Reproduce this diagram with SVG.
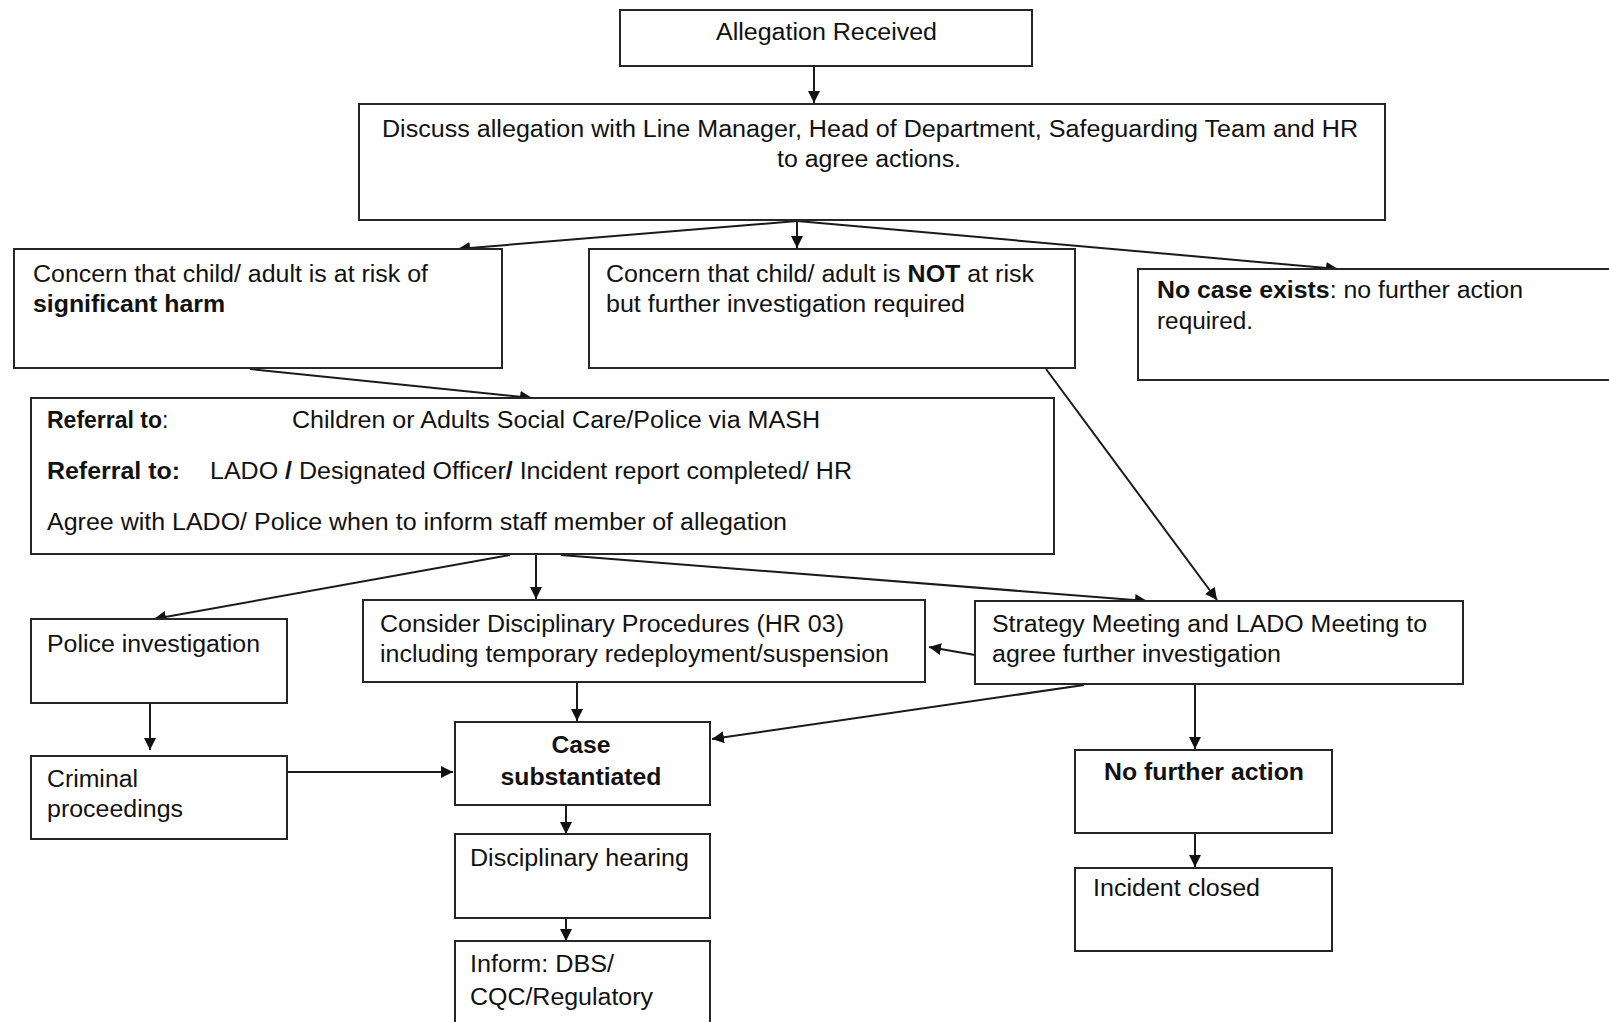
<svg xmlns="http://www.w3.org/2000/svg" width="1609" height="1022" viewBox="0 0 1609 1022">
<style>
.box{fill:#fff;stroke:#262626;stroke-width:2}
.t{font-family:"Liberation Sans",Arial,sans-serif;font-size:23px;fill:#111}
.b{font-weight:bold}
.c{fill:none;stroke:#1a1a1a;stroke-width:2;marker-end:url(#ah)}
</style>
<defs>
<marker id="ah" markerUnits="userSpaceOnUse" markerWidth="14" markerHeight="12" refX="12" refY="6" orient="auto">
<path d="M0,0 L12,6 L0,12 Z" fill="#111"/>
</marker>
</defs>
<rect width="1609" height="1022" fill="#fff"/>
<g id="connectors">
<line class="c" x1="814" y1="66" x2="814" y2="103"/>
<line class="c" x1="797" y1="221" x2="458" y2="249"/>
<line class="c" x1="797" y1="221" x2="797" y2="248"/>
<line class="c" x1="797" y1="221" x2="1338" y2="269"/>
<line class="c" x1="250" y1="369" x2="532" y2="398"/>
<line class="c" x1="1046" y1="369" x2="1217" y2="600"/>
<line class="c" x1="510" y1="555" x2="154" y2="619"/>
<line class="c" x1="536" y1="555" x2="536" y2="599"/>
<line class="c" x1="561" y1="555" x2="1147" y2="601"/>
<line class="c" x1="975" y1="655" x2="929" y2="647"/>
<line class="c" x1="577" y1="683" x2="577" y2="721"/>
<line class="c" x1="1084" y1="685" x2="712" y2="739"/>
<line class="c" x1="1195" y1="685" x2="1195" y2="749"/>
<line class="c" x1="150" y1="703" x2="150" y2="750"/>
<line class="c" x1="287" y1="772" x2="453" y2="772"/>
<line class="c" x1="566" y1="806" x2="566" y2="834"/>
<line class="c" x1="566" y1="918" x2="566" y2="941"/>
<line class="c" x1="1195" y1="833" x2="1195" y2="867"/>
</g>
<g id="allegation">
<rect class="box" x="620" y="10" width="412" height="56"/>
<text class="t" x="716" y="40" textLength="221" lengthAdjust="spacingAndGlyphs">Allegation Received</text>
</g>
<g id="discuss">
<rect class="box" x="359" y="104" width="1026" height="116"/>
<text class="t" x="382" y="137" textLength="976" lengthAdjust="spacingAndGlyphs">Discuss allegation with Line Manager, Head of Department, Safeguarding Team and HR</text>
<text class="t" x="777" y="167" textLength="184" lengthAdjust="spacingAndGlyphs">to agree actions.</text>
</g>
<g id="harm">
<rect class="box" x="14" y="249" width="488" height="119"/>
<text class="t" x="33" y="282" textLength="395" lengthAdjust="spacingAndGlyphs">Concern that child/ adult is at risk of</text>
<text class="t b" x="33" y="312" textLength="192" lengthAdjust="spacingAndGlyphs">significant harm</text>
</g>
<g id="notrisk">
<rect class="box" x="589" y="249" width="486" height="119"/>
<text class="t" x="606" y="282" textLength="428" lengthAdjust="spacingAndGlyphs">Concern that child/ adult is <tspan class="b">NOT</tspan> at risk</text>
<text class="t" x="606" y="312" textLength="359" lengthAdjust="spacingAndGlyphs">but further investigation required</text>
</g>
<g id="nocase">
<rect class="box" x="1138" y="269" width="490" height="111"/>
<text class="t" x="1157" y="298" textLength="366" lengthAdjust="spacingAndGlyphs"><tspan class="b">No case exists</tspan>: no further action</text>
<text class="t" x="1157" y="329" textLength="96" lengthAdjust="spacingAndGlyphs">required.</text>
</g>
<g id="referral">
<rect class="box" x="31" y="398" width="1023" height="156"/>
<text class="t" x="47" y="428"><tspan class="b">Referral to</tspan>:</text>
<text class="t" x="292" y="428" textLength="528" lengthAdjust="spacingAndGlyphs">Children or Adults Social Care/Police via MASH</text>
<text class="t b" x="47" y="479" textLength="133" lengthAdjust="spacingAndGlyphs">Referral to:</text>
<text class="t" x="210" y="479" textLength="642" lengthAdjust="spacingAndGlyphs">LADO <tspan class="b">/</tspan> Designated Officer<tspan class="b">/</tspan> Incident report completed/ HR</text>
<text class="t" x="47" y="530" textLength="740" lengthAdjust="spacingAndGlyphs">Agree with LADO/ Police when to inform staff member of allegation</text>
</g>
<g id="police">
<rect class="box" x="31" y="619" width="256" height="84"/>
<text class="t" x="47" y="652" textLength="213" lengthAdjust="spacingAndGlyphs">Police investigation</text>
</g>
<g id="consider">
<rect class="box" x="363" y="600" width="562" height="82"/>
<text class="t" x="380" y="632" textLength="464" lengthAdjust="spacingAndGlyphs">Consider Disciplinary Procedures (HR 03)</text>
<text class="t" x="380" y="662" textLength="509" lengthAdjust="spacingAndGlyphs">including temporary redeployment/suspension</text>
</g>
<g id="strategy">
<rect class="box" x="975" y="601" width="488" height="83"/>
<text class="t" x="992" y="632" textLength="435" lengthAdjust="spacingAndGlyphs">Strategy Meeting and LADO Meeting to</text>
<text class="t" x="992" y="662" textLength="289" lengthAdjust="spacingAndGlyphs">agree further investigation</text>
</g>
<g id="case">
<rect class="box" x="455" y="722" width="255" height="83"/>
<text class="t b" x="581" y="753" text-anchor="middle" textLength="59" lengthAdjust="spacingAndGlyphs">Case</text>
<text class="t b" x="581" y="785" text-anchor="middle" textLength="161" lengthAdjust="spacingAndGlyphs">substantiated</text>
</g>
<g id="criminal">
<rect class="box" x="31" y="756" width="256" height="83"/>
<text class="t" x="47" y="787" textLength="91" lengthAdjust="spacingAndGlyphs">Criminal</text>
<text class="t" x="47" y="817" textLength="136" lengthAdjust="spacingAndGlyphs">proceedings</text>
</g>
<g id="hearing">
<rect class="box" x="455" y="834" width="255" height="84"/>
<text class="t" x="470" y="866" textLength="219" lengthAdjust="spacingAndGlyphs">Disciplinary hearing</text>
</g>
<g id="inform">
<rect class="box" x="455" y="941" width="255" height="95"/>
<text class="t" x="470" y="972" textLength="144" lengthAdjust="spacingAndGlyphs">Inform: DBS/</text>
<text class="t" x="470" y="1005" textLength="183" lengthAdjust="spacingAndGlyphs">CQC/Regulatory</text>
</g>
<g id="nfa">
<rect class="box" x="1075" y="750" width="257" height="83"/>
<text class="t b" x="1204" y="780" text-anchor="middle" textLength="200" lengthAdjust="spacingAndGlyphs">No further action</text>
</g>
<g id="closed">
<rect class="box" x="1075" y="868" width="257" height="83"/>
<text class="t" x="1093" y="896" textLength="167" lengthAdjust="spacingAndGlyphs">Incident closed</text>
</g>
</svg>
